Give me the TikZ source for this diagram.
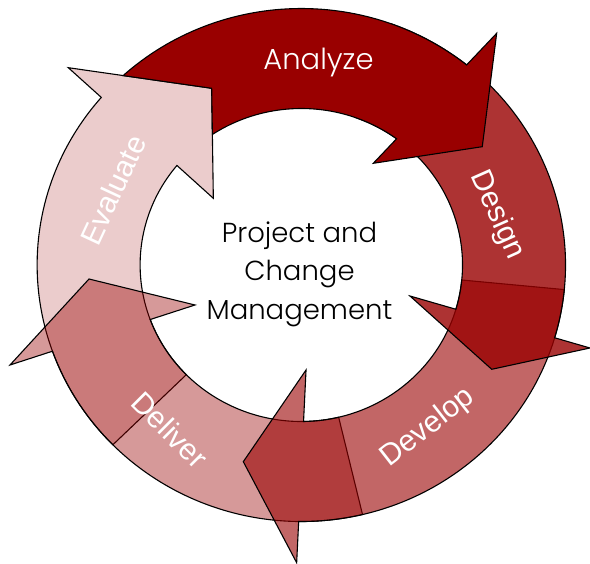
\documentclass[tikz,border=0pt]{standalone}
\usepackage{fontspec}
\setmainfont{Liberation Sans}
\newfontfamily\geofont{Poppins Light}
\definecolor{arrowred}{HTML}{990000}
\begin{document}
\begin{tikzpicture}[x=1pt,y=1pt,
  arrowshape/.style={draw=black, line width=1.1pt, line join=miter, fill=arrowred},
  lbl/.style={text=white, font=\fontsize{30}{36}\selectfont, inner sep=0pt},
  geolbl/.style={font=\geofont\fontsize{27.5}{38.5}\selectfont, inner sep=0pt}]
\useasboundingbox (-301.3,-299) rectangle (288.7,265);
\begin{scope}[xscale=1.03]
  % Evaluate
  \path[arrowshape, fill opacity=0.2] (224.5:256.5) arc[start angle=224.5, end angle=139.2, radius=256.5]
    -- (-226.2,197.3) -- (-87,176.7) -- (-85.4,66.7) -- (140.5:156.5)
    arc[start angle=140.5, end angle=224.5, radius=156.5] -- cycle;
  % Deliver
  \path[arrowshape, fill opacity=0.4] (283.4:256.5) arc[start angle=283.4, end angle=199.64, radius=256.5]
    -- (-282.8,-100) -- (-206.1,-14) -- (-103.2,-40) -- (200.39:156.5)
    arc[start angle=200.39, end angle=283.4, radius=156.5] -- cycle;
  % Develop
  \path[arrowshape, fill opacity=0.6] (-5.5:256.5) arc[start angle=-5.5, end angle=-90.57, radius=256.5]
    -- (-4.5,-297.7) -- (-56.3,-196.7) -- (4.6,-105) -- (-89.2:156.5)
    arc[start angle=-89.2, end angle=-5.5, radius=156.5] -- cycle;
  % Design
  \path[arrowshape, fill opacity=0.8] (70:256.5) arc[start angle=70, end angle=-16.48, radius=256.5]
    -- (280.3,-83) -- (184.9,-104.3) -- (105.5,-31) -- (-16.43:156.5)
    arc[start angle=-16.43, end angle=70, radius=156.5] -- cycle;
  % Analyze
  \path[arrowshape] (132.4:256.5) arc[start angle=132.4, end angle=51.26, radius=256.5]
    -- (189.7,231.7) -- (175.7,118.3) -- (69.9,101.7) -- (53.76:156.5)
    arc[start angle=53.76, end angle=123.48, radius=156.5] -- (-87,176.7) -- cycle;
\end{scope}
\node[geolbl, font=\geofont\fontsize{29}{36}\selectfont, text=white, anchor=base] (analyze) at (17.2,195) {Analyze};
\node[lbl, rotate=-66] (design) at (195.7,50) {Design};
\node[lbl, rotate=38] (develop) at (126.7,-163) {Develop};
\node[lbl, rotate=-45] (deliver) at (-131.3,-165) {Deliver};
\node[lbl, rotate=65] (evaluate) at (-188.3,75) {Evaluate};
\node[geolbl, text=black, align=center] (center) at (-1.8,-9) {Project and\\Change\\Management};
\end{tikzpicture}
\end{document}
